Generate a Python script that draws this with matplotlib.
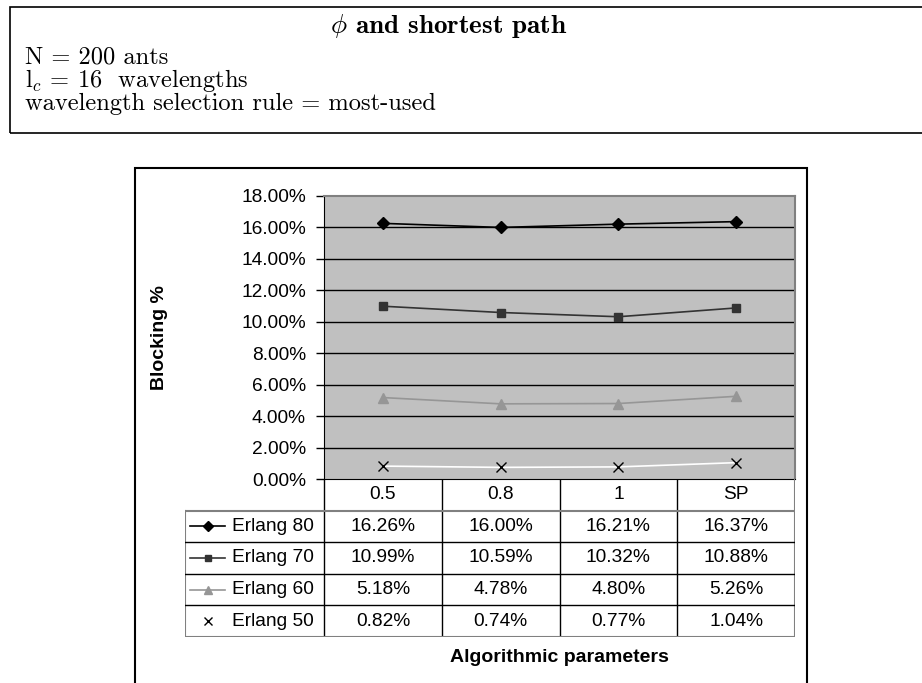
import numpy as np
import matplotlib.pyplot as plt
from matplotlib.patches import Rectangle

plt.rcParams['mathtext.fontset'] = 'cm'
plt.rcParams['font.family'] = ['Liberation Sans', 'DejaVu Sans']

# Data
categories = ['0.5', '0.8', '1', 'SP']
series_names = ['Erlang 80', 'Erlang 70', 'Erlang 60', 'Erlang 50']
erlang80 = [16.26, 16.00, 16.21, 16.37]
erlang70 = [10.99, 10.59, 10.32, 10.88]
erlang60 = [5.18, 4.78, 4.80, 5.26]
erlang50 = [0.82, 0.74, 0.77, 1.04]
yticks = [0, 2, 4, 6, 8, 10, 12, 14, 16, 18]

header_title = r'$\phi$ and shortest path'
header_lines = [r'N = 200 ants',
                r'$\mathrm{l}_c$ = 16  wavelengths',
                r'wavelength selection rule = most-used']

# styles per series: line color, marker, marker color, marker size
styles = [('black', 'D', 'black', 6),
          ('#333333', 's', '#333333', 5.5),
          ('#969696', '^', '#969696', 7),
          ('white', 'x', 'black', 6.5)]
all_vals = [erlang80, erlang70, erlang60, erlang50]

W, H = 922, 683
fig = plt.figure(figsize=(W / 100, H / 100), dpi=100)


def fx(px):
    return px / W


def fy(py):
    return 1 - py / H


# header box
fig.add_artist(Rectangle((fx(10), fy(133)), fx(930) - fx(10), fy(7) - fy(133),
                         transform=fig.transFigure, fill=False,
                         edgecolor='black', lw=1.2))
fig.text(fx(449), fy(33), header_title, family='cmb10', fontsize=19.5,
         ha='center', va='baseline')
for i, line in enumerate(header_lines):
    fig.text(fx(25), fy(63 + i * 23.5), line, family='cmr10', fontsize=17.6,
             ha='left', va='baseline')

# chart frame
fig.add_artist(Rectangle((fx(135), fy(720)), fx(807) - fx(135), fy(168) - fy(720),
                         transform=fig.transFigure, fill=False,
                         edgecolor='black', lw=1.5))

# plot area
pl, pr, pt, pb = 324, 795, 196, 479
ax = fig.add_axes([fx(pl), fy(pb), (pr - pl) / W, (pb - pt) / H])
ax.set_facecolor('#c0c0c0')
ax.set_xlim(-0.5, len(categories) - 0.5)
ax.set_ylim(0, 18)
for v in yticks[1:-1]:
    ax.axhline(v, color='black', lw=1, zorder=1)
x = np.arange(len(categories))
for vals, (lc, mk, mc, ms) in zip(all_vals, styles):
    ax.plot(x, vals, color=lc, lw=1.2, marker=mk, markersize=ms,
            markerfacecolor=mc, markeredgecolor=mc, zorder=3)
ax.set_yticks(yticks)
ax.set_yticklabels([f'{v:.2f}%' for v in yticks])
ax.set_xticks([])
ax.tick_params(axis='y', length=6, width=1, pad=7, labelsize=13.8)
for s in ['top', 'right']:
    ax.spines[s].set_color('#808080')
    ax.spines[s].set_linewidth(1.5)
ax.spines['left'].set_color('black')
ax.spines['bottom'].set_color('black')
ax.set_ylabel('Blocking %', fontsize=14, fontweight='bold', labelpad=12)
ax.yaxis.set_label_coords((168 - pl) / (pr - pl), 0.5)

# data table under the plot
cw = (pr - pl) / len(categories)
tl, tb = 185, 637
left_u = -0.5 - (pl - tl) / cw
tab = fig.add_axes([fx(tl), fy(tb), (pr - tl) / W, (tb - pb) / H])
tab.set_xlim(left_u, len(categories) - 0.5)
tab.set_ylim(len(series_names) + 1, 0)
tab.axis('off')
nrow = len(series_names) + 1
right_u = len(categories) - 0.5
for i in range(len(categories) - 1):
    tab.plot([i + 0.5, i + 0.5], [0, nrow], color='black', lw=1)
tab.plot([-0.5, -0.5], [0, nrow], color='black', lw=1)
tab.plot([right_u, right_u], [0, nrow], color='#808080', lw=1.5)
tab.plot([left_u, left_u], [1, nrow], color='#808080', lw=1.5)
tab.plot([left_u, right_u], [1, 1], color='#808080', lw=1.5)
for r in range(2, nrow):
    tab.plot([left_u, right_u], [r, r], color='black', lw=1)
tab.plot([left_u, right_u], [nrow, nrow], color='#808080', lw=1.5)
for i, c in enumerate(categories):
    tab.text(i, 0.5, c, ha='center', va='center', fontsize=13.8)
for r, (name, vals, (lc, mk, mc, ms)) in enumerate(zip(series_names, all_vals, styles)):
    y = r + 1.5
    x0 = left_u + 5 / cw
    x1 = left_u + 40 / cw
    tab.plot([x0, x1], [y, y], color=lc, lw=1.2)
    tab.plot([(x0 + x1) / 2], [y], marker=mk, markersize=ms * 0.85,
             markerfacecolor=mc, markeredgecolor=mc, color=lc)
    tab.text(left_u + 47 / cw, y, name, ha='left', va='center', fontsize=13.8)
    for i, v in enumerate(vals):
        tab.text(i, y, f'{v:.2f}%', ha='center', va='center', fontsize=13.8)

fig.text(fx((pl + pr) / 2), fy(657), 'Algorithmic parameters', fontsize=14,
         fontweight='bold', ha='center', va='center')

fig.savefig('out.png', dpi=100)
